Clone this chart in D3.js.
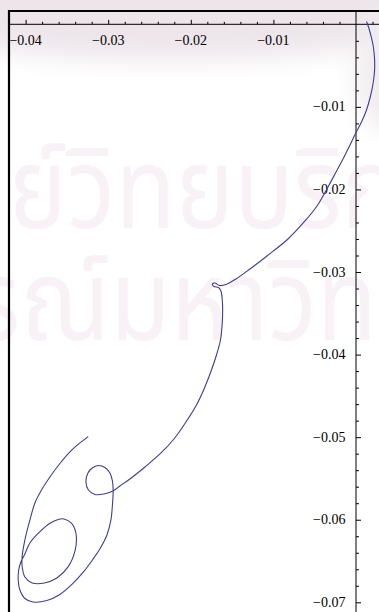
<!DOCTYPE html>
<html>
<head>
<meta charset="utf-8">
<script src="https://cdn.jsdelivr.net/npm/d3@7/dist/d3.min.js"></script>
<style>
  html, body { margin: 0; padding: 0; background: #fff; }
  svg { display: block; }
</style>
</head>
<body>
<svg id="chart" width="379" height="612"></svg>
<script>
// Trajectory samples (x, y) in path order, from the start near the origin
// down to the free end inside the lower-left spiral.
const trajX = [
  0.001272, 0.001514, 0.001817, 0.002083, 0.00224, 0.002252, 0.002095, 0.001756,
  0.001272, 0.000666, 0.0, -0.000787, -0.001574, -0.002483, -0.003391, -0.004723,
  -0.006176, -0.008235, -0.010778, -0.012837, -0.014532, -0.015743, -0.01653, -0.017075,
  -0.017378, -0.017196, -0.016651, -0.016349, -0.016191, -0.016143, -0.016191, -0.016409,
  -0.016893, -0.017499, -0.018347, -0.019315, -0.020587, -0.022041, -0.023736, -0.025552,
  -0.027369, -0.02858, -0.029427, -0.030517, -0.031607, -0.032394, -0.032697, -0.032455,
  -0.031849, -0.031123, -0.030396, -0.029791, -0.029488, -0.029403, -0.029488, -0.029670,
  -0.030154, -0.030941, -0.031910, -0.033000, -0.034332, -0.035846, -0.03742, -0.039115,
  -0.040084, -0.04069, -0.040895, -0.040835, -0.040569, -0.040145, -0.039479, -0.038268,
  -0.037057, -0.036052, -0.035361, -0.034429, -0.033908, -0.033993, -0.03484, -0.036209,
  -0.037868, -0.039273, -0.040084, -0.040411, -0.040423, -0.040084, -0.039479, -0.038873,
  -0.038147, -0.037057, -0.035846, -0.034271, -0.032418
];
const trajY = [
  0.000339, -0.000327, -0.001417, -0.002628, -0.004081, -0.005534, -0.006987, -0.008683,
  -0.010378, -0.011831, -0.013103, -0.014738, -0.016312, -0.018008, -0.019703, -0.022004,
  -0.02382, -0.0260, -0.028059, -0.029633, -0.030844, -0.03151, -0.031631, -0.031329,
  -0.03145, -0.031752, -0.031874, -0.032297, -0.033387, -0.034598, -0.036173, -0.038231,
  -0.040048, -0.041864, -0.044044, -0.046103, -0.048161, -0.050220, -0.052036, -0.053611,
  -0.055064, -0.055912, -0.056517, -0.056881, -0.056941, -0.056396, -0.055427, -0.054338,
  -0.053672, -0.053429, -0.053672, -0.054338, -0.055306, -0.056638, -0.058213, -0.060029,
  -0.061846, -0.063420, -0.064873, -0.066326, -0.067780, -0.069052, -0.069778, -0.06996,
  -0.069536, -0.068506, -0.067295, -0.066084, -0.065115, -0.064268, -0.062815, -0.061446,
  -0.060429, -0.059969, -0.059908, -0.060429, -0.06164, -0.063662, -0.065685, -0.067053,
  -0.067695, -0.067622, -0.066932, -0.065721, -0.06451, -0.062451, -0.060029, -0.05797,
  -0.056517, -0.054822, -0.053187, -0.051431, -0.049942
];

// Axis ticks
const xMajorTicks = [-0.04, -0.03, -0.02, -0.01];
const yMajorTicks = [-0.01, -0.02, -0.03, -0.04, -0.05, -0.06, -0.07];
const xTickLabels = ["\u22120.04", "\u22120.03", "\u22120.02", "\u22120.01"];
const yTickLabels = ["\u22120.01", "\u22120.02", "\u22120.03", "\u22120.04", "\u22120.05", "\u22120.06", "\u22120.07"];
const minorStep = 0.002;

// Background watermark lines
const watermarkLines = ["ศูนย์วิทยบริการ", "จุฬาลงกรณ์มหาวิทยาลัย"];

const W = 379, H = 612;
const svg = d3.select("#chart");

const x = d3.scaleLinear().domain([-0.04, 0]).range([25.6, 356]);
const y = d3.scaleLinear().domain([-0.07, 0]).range([602.3, 24.3]);

const defs = svg.append("defs");
const blur = defs.append("filter").attr("id", "soft")
  .attr("x", "-50%").attr("y", "-50%").attr("width", "200%").attr("height", "200%");
blur.append("feGaussianBlur").attr("stdDeviation", 12);

// Soft haze near the top edge
const bg = svg.append("g");
bg.append("rect").attr("width", W).attr("height", H).attr("fill", "#ffffff");
bg.append("ellipse")
  .attr("cx", 170).attr("cy", 5).attr("rx", 290).attr("ry", 55)
  .attr("fill", "#ede5ea").attr("filter", "url(#soft)");
bg.append("ellipse")
  .attr("cx", 385).attr("cy", 70).attr("rx", 30).attr("ry", 60)
  .attr("fill", "#f1ecef").attr("filter", "url(#soft)");

// Watermark text, squeezed horizontally; each line is shifted so that a
// chosen character starts at a given x.
const wmScaleX = 0.88;
const wmSpec = [
  { baseline: 228, anchorChar: 5, anchorX: 67 },   // "ว"
  { baseline: 340, anchorChar: 10, anchorX: 110 }  // "ม"
];
bg.selectAll("text.wm")
  .data(watermarkLines)
  .join("text")
  .attr("class", "wm")
  .attr("x", 0)
  .attr("y", (d, i) => wmSpec[i].baseline)
  .attr("transform", `scale(${wmScaleX},1)`)
  .attr("font-family", "'Noto Sans Thai', 'Noto Sans Thai Looped', Loma, Garuda, 'DejaVu Sans', sans-serif")
  .attr("font-size", 112)
  .attr("fill", "#f8f1f5")
  .text(d => d)
  .each(function (d, i) {
    let p = 0;
    try { p = this.getStartPositionOfChar(wmSpec[i].anchorChar).x; } catch (e) { p = 0; }
    d3.select(this).attr("x", wmSpec[i].anchorX / wmScaleX - p);
  });

// Frame lines (top and left)
svg.append("line").attr("x1", 9).attr("x2", W).attr("y1", 11).attr("y2", 11)
  .attr("stroke", "#000").attr("stroke-width", 2);
svg.append("line").attr("x1", 9).attr("x2", 9).attr("y1", 10).attr("y2", H)
  .attr("stroke", "#000").attr("stroke-width", 2.2);

// Axis lines through the origin
const y0 = y(0), x0 = x(0);
svg.append("line").attr("x1", 9).attr("x2", W).attr("y1", y0).attr("y2", y0)
  .attr("stroke", "#000").attr("stroke-width", 1);
svg.append("line").attr("x1", x0).attr("x2", x0).attr("y1", 11).attr("y2", H)
  .attr("stroke", "#000").attr("stroke-width", 1);

// Minor tick values
const xMinor = d3.range(-0.044, 0.0041, minorStep).map(v => +v.toFixed(4))
  .filter(v => v !== 0 && !xMajorTicks.some(m => Math.abs(m - v) < 1e-9) && x(v) >= 9);
const yMinor = d3.range(-0.074, 0, minorStep).map(v => +v.toFixed(4))
  .filter(v => !yMajorTicks.some(m => Math.abs(m - v) < 1e-9) && y(v) <= H);

// X axis: ticks point up, labels below
const xAxisMajor = d3.axisTop(x).tickValues(xMajorTicks).tickSize(4.5).tickFormat("");
const xAxisMinor = d3.axisTop(x).tickValues(xMinor).tickSize(2.5).tickFormat("");
[xAxisMajor, xAxisMinor].forEach(ax => {
  const g = svg.append("g").attr("transform", `translate(0,${y0})`).call(ax);
  g.select(".domain").remove();
  g.selectAll("line").attr("stroke", "#000").attr("stroke-width", 1);
});
svg.append("g").selectAll("text")
  .data(xMajorTicks)
  .join("text")
  .attr("x", d => x(d))
  .attr("y", 45)
  .attr("text-anchor", "middle")
  .attr("font-family", "'Liberation Serif', 'Times New Roman', serif")
  .attr("font-size", 14)
  .attr("fill", "#000")
  .text((d, i) => xTickLabels[i]);

// Y axis: ticks point right, labels on the left
const yAxisMajor = d3.axisRight(y).tickValues(yMajorTicks).tickSize(5).tickFormat("");
const yAxisMinor = d3.axisRight(y).tickValues(yMinor).tickSize(3).tickFormat("");
[yAxisMajor, yAxisMinor].forEach(ax => {
  const g = svg.append("g").attr("transform", `translate(${x0},0)`).call(ax);
  g.select(".domain").remove();
  g.selectAll("line").attr("stroke", "#000").attr("stroke-width", 1);
});
svg.append("g").selectAll("text")
  .data(yMajorTicks)
  .join("text")
  .attr("x", x0 - 10.5)
  .attr("y", d => y(d) + 4.5)
  .attr("text-anchor", "end")
  .attr("font-family", "'Liberation Serif', 'Times New Roman', serif")
  .attr("font-size", 14)
  .attr("fill", "#000")
  .text((d, i) => yTickLabels[i]);

// Trajectory curve
const pts = trajX.map((v, i) => [v, trajY[i]]);
const line = d3.line()
  .x(d => x(d[0]))
  .y(d => y(d[1]))
  .curve(d3.curveCatmullRom.alpha(0.5));
svg.append("path")
  .datum(pts)
  .attr("d", line)
  .attr("fill", "none")
  .attr("stroke", "#3d3d99")
  .attr("stroke-width", 1.1)
  .attr("stroke-linejoin", "round");
</script>
</body>
</html>
